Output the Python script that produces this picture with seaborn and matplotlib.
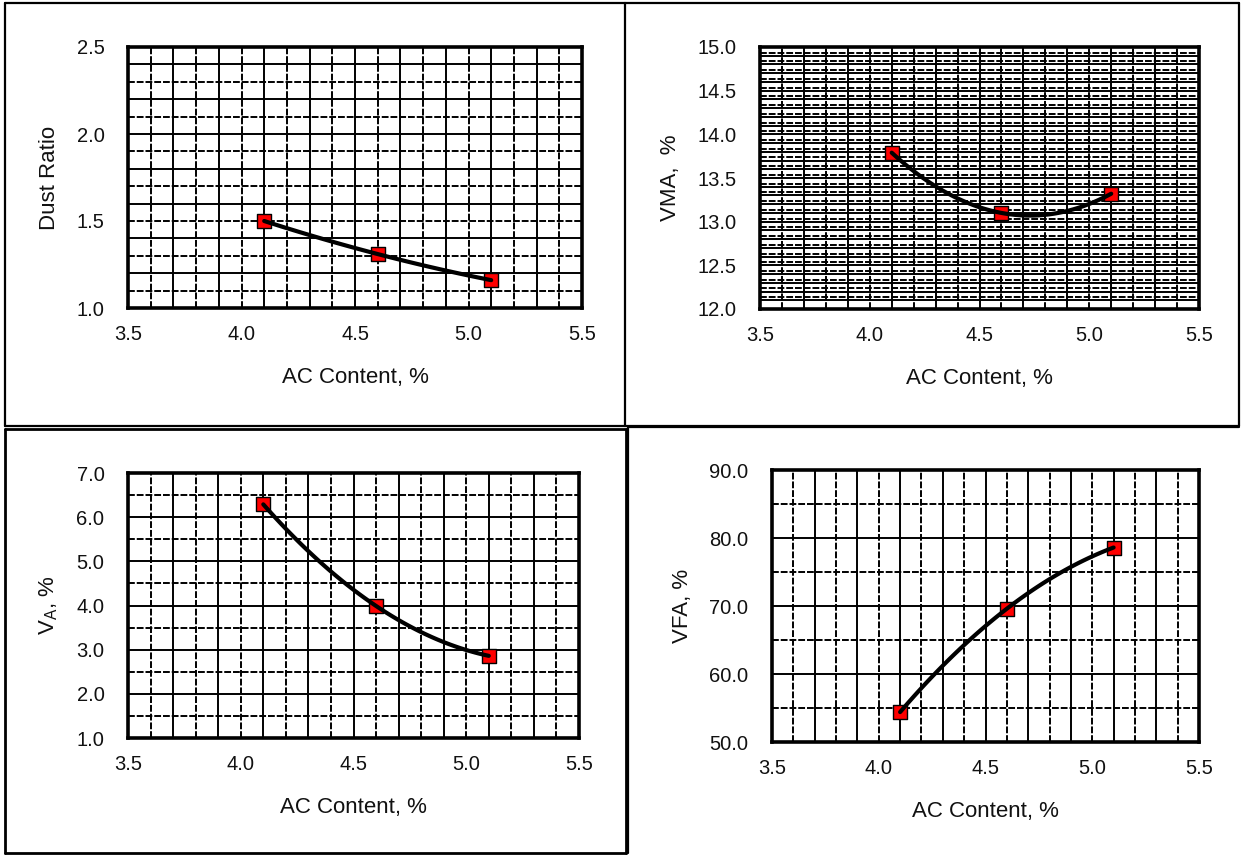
import numpy as np
import matplotlib
matplotlib.use("Agg")
import matplotlib.pyplot as plt
from matplotlib.lines import Line2D
import seaborn as sns

# ---- data ----
ac_content = [4.1, 4.6, 5.1]
dust_ratio = [1.50, 1.31, 1.16]
vma = [13.79, 13.10, 13.32]
va = [6.29, 3.99, 2.86]
vfa = [54.4, 69.6, 78.6]

x_ticks = [3.5, 4.0, 4.5, 5.0, 5.5]
dust_ticks = [1.0, 1.5, 2.0, 2.5]
vma_ticks = [12.0, 12.5, 13.0, 13.5, 14.0, 14.5, 15.0]
va_ticks = [1.0, 2.0, 3.0, 4.0, 5.0, 6.0, 7.0]
vfa_ticks = [50.0, 60.0, 70.0, 80.0, 90.0]

x_label = "AC Content, %"
y_labels = ["Dust Ratio", "VMA,  %", r"V$_\mathregular{A}$, %", "VFA, %"]

sns.set_theme(style="white")
plt.rcParams['font.family'] = ['Liberation Sans', 'DejaVu Sans']
plt.rcParams['mathtext.fontset'] = 'custom'
plt.rcParams['mathtext.rm'] = 'Liberation Sans'

W, H = 1241, 856
fig = plt.figure(figsize=(W / 100, H / 100), dpi=100)
fig.patch.set_facecolor("white")


def ax_at(left, top, right, bottom):
    return fig.add_axes([left / W, 1 - bottom / H, (right - left) / W, (bottom - top) / H])


def box(x0, y0, x1, y1, sides="lrtb", lw=1.6):
    pts = {"l": [(x0, y0), (x0, y1)], "r": [(x1, y0), (x1, y1)],
           "t": [(x0, y0), (x1, y0)], "b": [(x0, y1), (x1, y1)]}
    for s in sides:
        (a, b), (c, d) = pts[s]
        fig.add_artist(Line2D([a / W, c / W], [1 - b / H, 1 - d / H],
                              transform=fig.transFigure, color="black", lw=lw))


GRID_SOLID = dict(color="black", lw=1.4, zorder=1)
GRID_DASH = dict(color="black", lw=1.4, ls=(0, (3.5, 1.0)), zorder=1)


def grid_x(ax):
    xs = np.round(np.arange(3.6, 5.45, 0.1), 2)
    for i, xv in enumerate(xs):
        ax.axvline(xv, **(GRID_DASH if i % 2 == 0 else GRID_SOLID))


def grid_y(ax, lo, hi, step, pair_offset=None):
    ys = np.arange(lo + step, hi - step / 2, step)
    for i, yv in enumerate(ys):
        if pair_offset is None:
            ax.axhline(yv, **(GRID_DASH if i % 2 == 0 else GRID_SOLID))
        else:
            ax.axhline(yv, **GRID_SOLID)
            ax.axhline(yv + pair_offset, **GRID_DASH)


def panel(ax, y, yticks, ylabel, ystep, pair_offset=None):
    ylo, yhi = yticks[0], yticks[-1]
    grid_x(ax)
    grid_y(ax, ylo, yhi, ystep, pair_offset)
    sns.regplot(x=ac_content, y=y, order=2, ci=None, truncate=True,
                scatter=False, ax=ax,
                line_kws=dict(color="black", lw=3.0, zorder=5))
    sns.scatterplot(x=ac_content, y=y, marker="s", s=95, color="#ff0000",
                    edgecolor="black", linewidth=1.0, zorder=4, ax=ax)
    ax.set_xlim(3.5, 5.5)
    ax.set_ylim(ylo, yhi)
    ax.set_xticks(x_ticks)
    ax.set_xticklabels([f"{v:.1f}" for v in x_ticks])
    ax.set_yticks(yticks)
    ax.set_yticklabels([f"{v:.1f}" for v in yticks])
    ax.tick_params(axis="x", length=0, pad=12, labelsize=14.5, colors="#111111")
    ax.tick_params(axis="y", length=0, pad=17, labelsize=14.5, colors="#111111")
    ax.set_xlabel(x_label, fontsize=16, labelpad=17, color="#111111")
    ax.set_ylabel(ylabel, fontsize=16, labelpad=12, color="#111111")
    for sp in ax.spines.values():
        sp.set_visible(True)
        sp.set_color("black")
        sp.set_linewidth(2.6)
        sp.set_zorder(6)
    ax.set_facecolor("white")


ax1 = ax_at(128, 47, 582, 308)
panel(ax1, dust_ratio, dust_ticks, y_labels[0], 0.1)
ax2 = ax_at(760, 47, 1199, 309)
panel(ax2, vma, vma_ticks, y_labels[1], 0.1, pair_offset=0.035)
ax3 = ax_at(128, 473, 579, 738)
panel(ax3, va, va_ticks, y_labels[2], 0.5)
ax4 = ax_at(772, 470, 1199, 742)
panel(ax4, vfa, vfa_ticks, y_labels[3], 5.0)

# panel frames
box(5, 3, 625, 426)
box(625, 3, 1239, 426, sides="rtb")
box(5, 429, 626, 853, lw=2.0)
box(628, 427, 1239, 853, sides="lt")

fig.savefig("out.png", dpi=100, facecolor="white")
